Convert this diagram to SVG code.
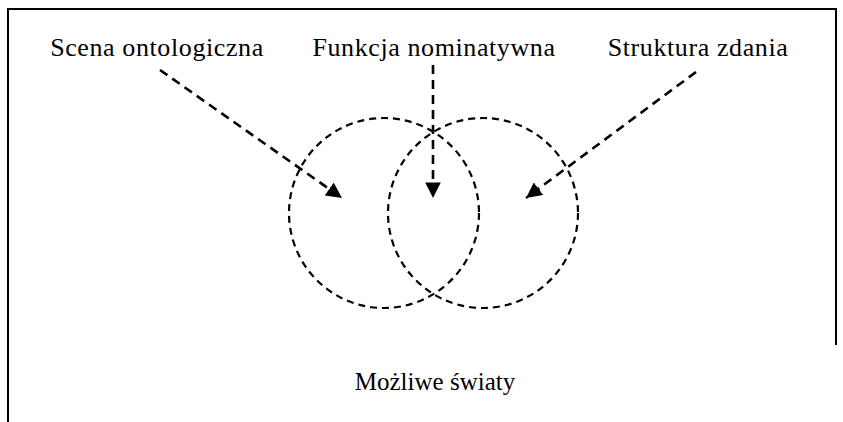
<svg xmlns="http://www.w3.org/2000/svg" width="843" height="422" viewBox="0 0 843 422">
  <style>
    .label { font-family: "Liberation Serif", "Times New Roman", serif; font-size: 25px; fill: #000; text-anchor: middle; }
    .title { font-size: 26px; letter-spacing: 0.6px; }
    .frame { fill: none; stroke: #000; stroke-width: 2; }
    .set { fill: none; stroke: #000; stroke-width: 2.2; stroke-dasharray: 7 5; }
    .pointer { fill: none; stroke: #000; stroke-width: 2.6; stroke-dasharray: 9 6; }
  </style>
  <defs>
    <marker id="head" viewBox="0 0 10 10" refX="10" refY="5" markerWidth="6" markerHeight="6" markerUnits="strokeWidth" orient="auto">
      <path d="M0,0 L10,5 L0,10 Z" fill="#000"/>
    </marker>
  </defs>
  <rect width="843" height="422" fill="#fff"/>

  <!-- open frame -->
  <path class="frame" d="M8,422 L8,9 L836,9 L836,345"/>

  <!-- overlapping sets -->
  <g id="set-left"><circle class="set" cx="384" cy="213" r="95"/></g>
  <g id="set-right"><circle class="set" cx="483" cy="213" r="95"/></g>

  <g id="label-scena"><text class="label title" x="157" y="56">Scena ontologiczna</text></g>
  <g id="label-funkcja"><text class="label title" x="434" y="56">Funkcja nominatywna</text></g>
  <g id="label-struktura"><text class="label title" x="698" y="56">Struktura zdania</text></g>
  <g id="label-swiaty"><text class="label" x="435" y="390">Możliwe światy</text></g>

  <g id="connectors">
    <path class="pointer" d="M160,70 L342,198" marker-end="url(#head)"/>
    <path class="pointer" d="M433,65 L433,198" marker-end="url(#head)"/>
    <path class="pointer" d="M696,72 L526,198" marker-end="url(#head)"/>
  </g>
</svg>
